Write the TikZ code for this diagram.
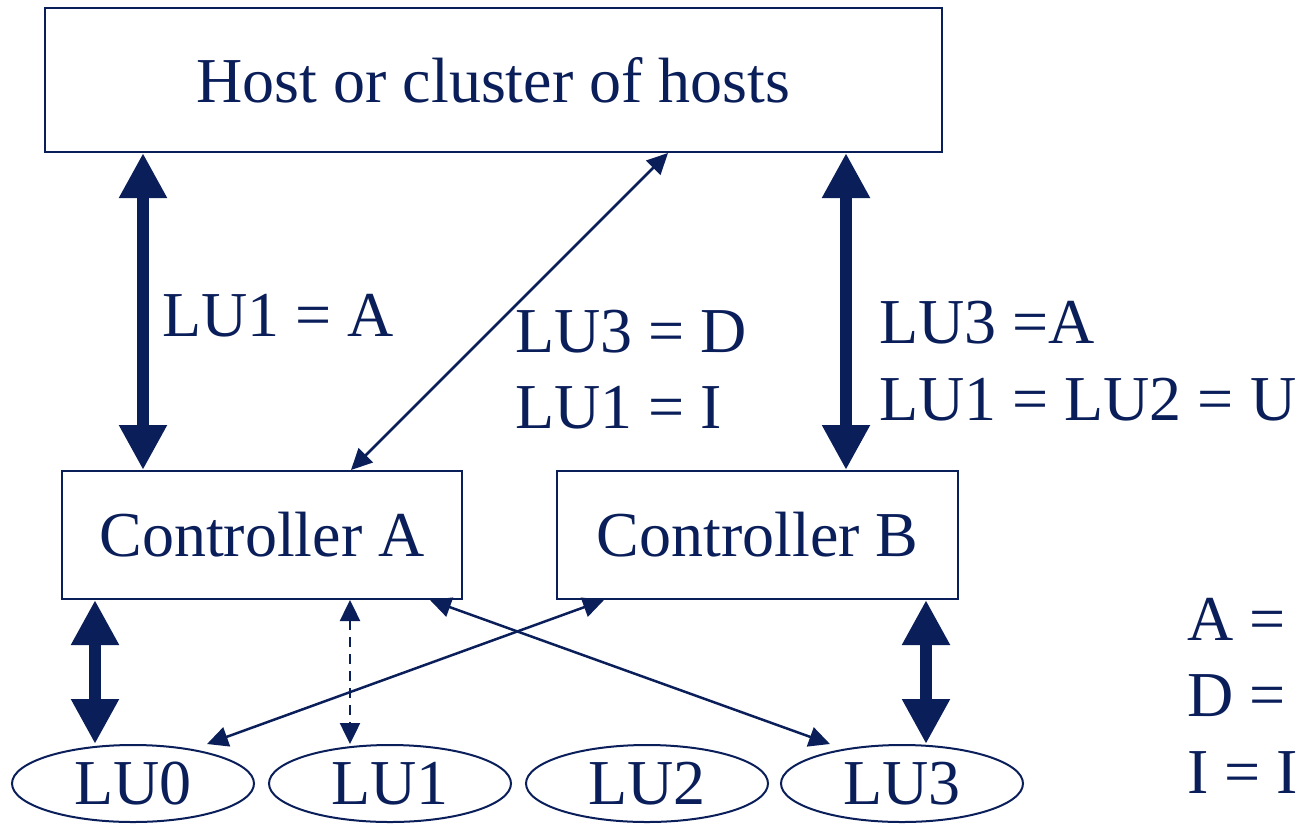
\documentclass[tikz,border=0pt]{standalone}
\usepackage{fontspec}
\setmainfont{Liberation Serif}
\usepackage{xcolor}
\usetikzlibrary{positioning}
\usetikzlibrary{arrows.meta}
\usetikzlibrary{shapes.geometric}
\definecolor{navy}{RGB}{10,30,90}
\tikzset{mybox/.style={draw=navy, line width=2pt, text=navy, inner sep=0pt,
font=\fontsize{64}{76}\selectfont},
bigarrow/.style={draw=navy, line width=12pt, {Triangle[length=45pt,width=45pt]}-{Triangle[length=45pt,width=45pt]}},
thinarrow/.style={draw=navy, line width=2.5pt, {Triangle[length=21pt,width=20pt]}-{Triangle[length=21pt,width=20pt]}}}
\begin{document}
\begin{tikzpicture}[x=1pt, y=-1pt,
		lu/.style={mybox, ellipse, minimum width=242pt, minimum height=77pt},
		lbl/.style={anchor=base west, inner sep=0pt, text=navy, font=\fontsize{64}{76}\selectfont}]
	\useasboundingbox (0,0) rectangle (1299,823);
	\node[mybox, minimum width=897pt, minimum height=144pt](host) at (493.5,80) {Host or cluster of hosts};
	\node[mybox, minimum width=400pt, minimum height=128pt](ctrlA) at (262,535) {Controller A};
	\node[mybox, minimum width=401pt, minimum height=128pt](ctrlB) at (757.5,535) {Controller B};
	\foreach \i/\x in {0/133,1/390,2/647,3/902}
		\node[lu](lu\i) at (\x,783.5) {LU\i};
	\node[lbl](luA) at (162,336) {LU1 = A};
	\node[lbl](luD) at (515,352) {LU3 = D};
	\node[lbl](luI) at (515,428) {LU1 = I};
	\node[lbl](luB) at (879,343) {LU3 =A};
	\node[lbl](luU) at (879,420) {LU1 = LU2 = U};
	\node[lbl](keyA) at (1187,640) {A =};
	\node[lbl](keyD) at (1187,716) {D =};
	\node[lbl](keyI) at (1187,793) {I = I};
	\draw[bigarrow] (host.south -| 143,0) -- (ctrlA.north -| 143,0);
	\draw[bigarrow] (host.south -| 846,0) -- (ctrlB.north -| 846,0);
	\draw[thinarrow] (host.south -| 668,0) -- (ctrlA.north -| 351,0);
	\draw[bigarrow] (ctrlA.south -| 95,0) -- (lu0.north -| 95,0);
	\draw[bigarrow] (ctrlB.south -| 926,0) -- (lu3.north -| 926,0);
	\draw[thinarrow, dash pattern=on 10pt off 7pt] (ctrlA.south -| 350,0) -- (lu1.north -| 350,0);
	\draw[thinarrow] (ctrlA.south -| 430,0) -- (lu3.north -| 830,0);
	\draw[thinarrow] (ctrlB.south -| 604,0) -- (lu0.north -| 207,0);
\end{tikzpicture}
\end{document}
